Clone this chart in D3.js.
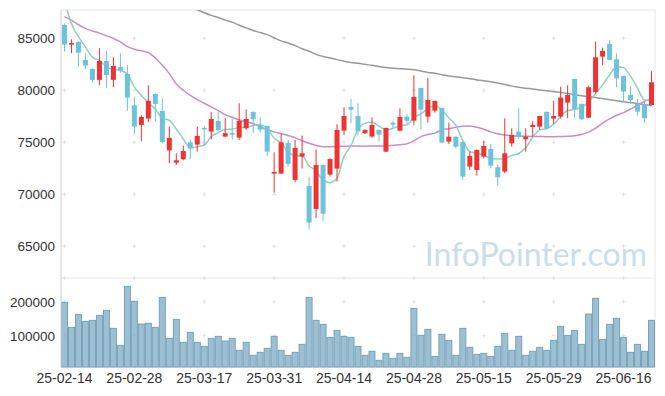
<!DOCTYPE html>
<html>
<head>
<meta charset="utf-8">
<script src="https://cdn.jsdelivr.net/npm/d3@7"></script>
<style>
  body { margin: 0; background: #fff; }
  text { font-family: "Liberation Sans", Arial, sans-serif; }
</style>
</head>
<body>
<div class="chart"></div>
<script>
// trading days
const dates = [
  "25-02-14","25-02-17","25-02-18","25-02-19","25-02-20","25-02-21","25-02-24","25-02-25","25-02-26","25-02-27","25-02-28",
  "25-03-04","25-03-05","25-03-06","25-03-07","25-03-10","25-03-11","25-03-12","25-03-13","25-03-14","25-03-17",
  "25-03-18","25-03-19","25-03-20","25-03-21","25-03-24","25-03-25","25-03-26","25-03-27","25-03-28","25-03-31",
  "25-04-01","25-04-02","25-04-03","25-04-04","25-04-07","25-04-08","25-04-09","25-04-10","25-04-11","25-04-14",
  "25-04-15","25-04-16","25-04-17","25-04-18","25-04-21","25-04-22","25-04-23","25-04-24","25-04-25","25-04-28",
  "25-04-29","25-04-30","25-05-02","25-05-07","25-05-08","25-05-09","25-05-12","25-05-13","25-05-14","25-05-15",
  "25-05-16","25-05-19","25-05-20","25-05-21","25-05-22","25-05-23","25-05-26","25-05-27","25-05-28","25-05-29",
  "25-05-30","25-06-02","25-06-04","25-06-05","25-06-09","25-06-10","25-06-11","25-06-12","25-06-13","25-06-16",
  "25-06-17","25-06-18","25-06-19","25-06-20"
];

const open = [
  86280,84390,84650,82920,82050,81000,82820,81000,82240,81570,
  78560,76670,77280,79650,78010,74220,73040,73370,75000,74780,
  76380,76030,77050,75550,75900,75450,76350,77920,76670,76570,
  71990,71990,74940,71380,73620,70800,68590,72820,71890,72470,
  76120,78400,77530,75870,75550,76190,74100,76890,76120,77470,
  77080,80220,77470,78040,78300,75060,75540,75030,72660,72340,
  73620,74360,72600,72180,74900,76030,75290,76470,76510,77920,
  77280,77470,78820,81090,78690,77370,79840,83240,84460,82980,
  81380,79550,78690,78690,78590
];
const high = [
  86440,84900,84700,83560,82100,84040,83780,83170,83560,82440,
  79390,77600,80480,79700,79230,76510,73940,74680,75220,76510,
  76570,77890,77890,77310,77310,78750,78170,77950,77400,76600,
  74040,75800,75220,75220,75640,71700,74330,72850,73450,76730,
  78370,79170,78750,76250,77400,76220,76400,77080,78270,77690,
  81440,80250,81190,79000,78350,76890,75560,75050,74100,74300,
  75160,74840,72820,77310,76350,78270,76350,77050,77550,77950,
  79010,80350,80480,81100,78720,80420,84680,84100,84840,83560,
  81400,80350,79200,78880,81830
];
const low = [
  83720,83560,82280,82020,80740,80480,80190,80290,81700,78010,
  75770,75100,76960,77020,74900,72980,72820,73270,73370,74100,
  74680,75290,76100,75480,75290,75220,76190,75870,75930,73690,
  70160,71950,72660,71150,72470,66640,67690,67440,71700,71220,
  75700,76830,75670,75800,75420,75070,74050,76350,76100,76760,
  76670,76250,76890,77850,74950,74840,74420,71440,72340,71800,
  73460,72500,70800,72020,74580,75290,74100,75540,76200,76190,
  76760,77280,77310,77310,77150,77310,79650,82440,82900,80290,
  78910,78690,77560,76830,78560
];
const close = [
  84390,84550,83620,82370,81000,82820,81470,82340,81920,79300,
  76510,77440,78980,78690,75030,75420,73270,74160,74420,75610,
  76250,77240,76190,75870,75740,77050,77240,77210,76220,74100,
  72150,75000,72920,74460,73940,67280,72820,68140,73400,76190,
  77530,78140,76060,76190,76670,75740,76380,76700,77440,77080,
  79360,78140,79070,78980,74970,75540,74580,71700,73690,74260,
  74650,72760,71640,73940,75700,75540,75540,76670,77530,76350,
  77530,79300,79550,78170,77210,80290,83170,83780,82920,81150,
  79870,79070,77950,77310,80770
];
const volume = [
  198000,124500,162700,142200,145100,159800,174500,121600,71600,245100,
  201000,134300,136300,124500,212700,92200,148000,80400,109800,80400,
  68600,92200,98000,84300,92200,56900,80400,42200,51000,62800,
  98000,56900,42200,51000,74500,212700,145100,133300,95100,115700,
  98000,95100,68600,42200,54000,27500,48100,33400,48100,36300,
  180400,101000,118600,39200,103900,86300,42200,121600,65700,45100,
  48100,39200,68600,106900,56900,98000,42200,54000,65700,56900,
  86300,127500,101000,115700,74500,163700,209800,89200,133300,151000,
  95100,51000,74500,54000,145100
];

// moving averages
const ma5 = [
  88600,86400,85150,84150,83190,82870,82260,82000,81910,81570,
  80310,79500,78830,78180,77330,77110,76280,75310,74460,74580,
  74740,75540,75940,76230,76260,76420,76420,76620,76690,76360,
  75380,74940,74080,73730,73690,72720,72280,71330,71120,71570,
  73620,74680,76260,76820,76920,76560,76210,76340,76590,76670,
  77390,77740,78220,78530,78100,77340,76630,75150,74100,73950,
  73780,73410,73400,73450,73740,73920,74470,75480,76200,76330,
  76720,77480,78050,78180,78350,78900,79680,80520,81470,82260,
  82180,81360,80190,79070,78990
];
const ma20 = [
  87080,86750,86300,85950,85700,85500,85250,84980,84650,84200,
  83950,83800,83620,83100,82400,81600,80600,80000,79500,79100,
  78750,78400,78050,77650,77400,77150,76950,76800,76500,76200,
  76000,75850,75650,75450,75150,74900,74700,74580,74580,74600,
  74620,74640,74640,74620,74640,74650,74650,74700,74760,74850,
  75150,75550,75750,75880,76200,76300,76450,76550,76570,76450,
  76250,76000,75820,75700,75640,75600,75580,75560,75550,75540,
  75540,75560,75580,75620,75750,75980,76350,76850,77250,77600,
  77850,78200,78550,78950,79200
];
const ma120 = [
  92600,92300,92000,91700,91400,91100,90800,90500,90200,89900,
  89600,89350,89100,88850,88650,88450,88250,88050,87900,87750,
  87450,87200,87000,86750,86550,86250,86000,85750,85550,85350,
  85050,84750,84550,84300,84000,83750,83450,83250,83100,82950,
  82800,82680,82600,82500,82400,82280,82180,82120,82080,82030,
  81980,81850,81720,81630,81500,81380,81300,81210,81100,81000,
  80920,80820,80700,80550,80400,80290,80200,80120,80030,79950,
  79870,79780,79690,79580,79480,79390,79300,79200,79100,79000,
  78900,78820,78720,78620,78550
];

const priceTicks = [65000, 70000, 75000, 80000, 85000];
const volumeTicks = [100000, 200000];
const dateTicks = dates.filter((d, i) => i % 10 === 0);

const W = 665, H = 396;
const plotL = 61, plotR = 655, plotT = 10, plotM = 278, plotB = 367;

const svg = d3.select(".chart").append("svg")
  .attr("width", W)
  .attr("height", H);

const x = d3.scaleBand().domain(dates).range([plotL, plotR]).padding(0);
const cx = d => x(d) + x.bandwidth() / 2;
const y = d3.scaleLinear().domain([61950, 87720]).range([plotM, plotT]);
const yv = d3.scaleLinear().domain([7900, 269700]).range([plotB, plotM]);

svg.append("clipPath").attr("id", "clipMain")
  .append("rect").attr("x", plotL).attr("y", plotT).attr("width", plotR - plotL).attr("height", plotM - plotT);

// frame lines
svg.append("rect")
  .attr("x", plotL).attr("y", plotT)
  .attr("width", plotR - plotL).attr("height", plotB - plotT)
  .attr("fill", "none").attr("stroke", "#e6e6e6");
svg.append("line")
  .attr("x1", plotL).attr("x2", plotR).attr("y1", plotM).attr("y2", plotM)
  .attr("stroke", "#e6e6e6");

// grid crosses
const crossX = dateTicks.map(d => cx(d));
const crossY = priceTicks.map(y).concat(volumeTicks.map(yv), [plotM]);
const crosses = [];
crossX.forEach(a => crossY.forEach(b => crosses.push([a, b])));
svg.append("g").selectAll("path")
  .data(crosses)
  .enter().append("path")
  .attr("d", d => `M${d[0] - 2},${d[1]}h4M${d[0]},${d[1] - 2}v4`)
  .attr("stroke", "#e2e2e2")
  .attr("stroke-width", 1);

// watermark
svg.append("text")
  .attr("x", 647).attr("y", 266)
  .attr("text-anchor", "end")
  .attr("fill", "#cbdde8")
  .style("font-size", "32px")
  .style("font-family", "Lato, sans-serif")
  .text("InfoPointer.com");

// volume bars
svg.append("g").selectAll("rect")
  .data(volume)
  .enter().append("rect")
  .attr("x", (d, i) => x(dates[i]) + 0.5)
  .attr("y", d => yv(d))
  .attr("width", x.bandwidth() - 1)
  .attr("height", d => plotB - yv(d))
  .attr("fill", "rgba(128,174,197,0.78)")
  .attr("stroke", "#76a3bb")
  .attr("stroke-width", 1);

const main = svg.append("g").attr("clip-path", "url(#clipMain)");

// moving averages
const line = d3.line()
  .x((d, i) => cx(dates[i]))
  .y(d => y(d))
  .curve(d3.curveMonotoneX);

main.append("path").attr("d", line(ma120))
  .attr("fill", "none").attr("stroke", "#999").attr("stroke-width", 1.5);
main.append("path").attr("d", line(ma20))
  .attr("fill", "none").attr("stroke", "#cc8cc6").attr("stroke-width", 1.5);
main.append("path").attr("d", line(ma5))
  .attr("fill", "none").attr("stroke", "#8fd0c6").attr("stroke-width", 1.5);

// candles
const upColor = "#ee3333", downColor = "#6ec3dc";
const candles = main.selectAll("g.candle")
  .data(dates)
  .enter().append("g")
  .attr("class", "candle");

candles.append("line")
  .attr("x1", d => cx(d)).attr("x2", d => cx(d))
  .attr("y1", (d, i) => y(high[i]))
  .attr("y2", (d, i) => y(low[i]))
  .attr("stroke", (d, i) => close[i] >= open[i] ? upColor : downColor)
  .attr("stroke-width", 1);

const bodyW = 5;
candles.append("rect")
  .attr("x", d => cx(d) - bodyW / 2)
  .attr("y", (d, i) => y(Math.max(open[i], close[i])))
  .attr("width", bodyW)
  .attr("height", (d, i) => Math.max(1.5, Math.abs(y(open[i]) - y(close[i]))))
  .attr("fill", (d, i) => close[i] >= open[i] ? upColor : downColor);

// axes
const yAxis = svg.append("g")
  .attr("transform", `translate(${plotL},0)`)
  .call(d3.axisLeft(y).tickValues(priceTicks).tickSize(0).tickPadding(6).tickFormat(d3.format("d")));
const vAxis = svg.append("g")
  .attr("transform", `translate(${plotL},0)`)
  .call(d3.axisLeft(yv).tickValues(volumeTicks).tickSize(0).tickPadding(6).tickFormat(d3.format("d")));
const xAxis = svg.append("g")
  .attr("transform", `translate(0,${plotB})`)
  .call(d3.axisBottom(x).tickValues(dateTicks).tickSize(0).tickPadding(6));

[yAxis, vAxis, xAxis].forEach(g => {
  g.select(".domain").remove();
  g.selectAll("text")
    .attr("fill", "#333")
    .style("font-size", "13.5px")
    .style("font-family", "'Liberation Sans', Arial, sans-serif");
});
xAxis.selectAll("text").style("font-size", "14px");

svg.append("line")
  .attr("x1", plotL).attr("x2", plotL).attr("y1", plotT).attr("y2", plotB)
  .attr("stroke", "#dcdcdc");
</script>
</body>
</html>
